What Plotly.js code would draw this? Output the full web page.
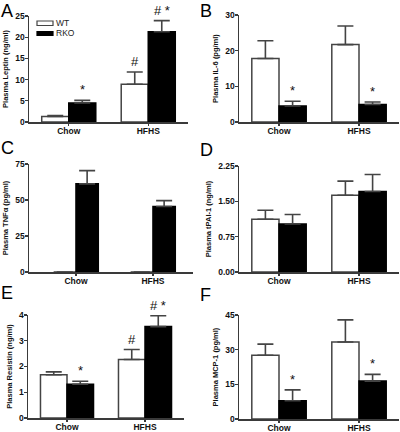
<!DOCTYPE html>
<html>
<head>
<meta charset="utf-8">
<script src="https://cdn.plot.ly/plotly-3.0.1.min.js"></script>
<style>html,body{margin:0;padding:0;background:#fff;}#chart{width:400px;height:432px;}</style>
</head>
<body>
<div id="chart"></div>
<script>
// ---- data ----
const categories = ["Chow", "HFHS"];
const seriesNames = ["WT", "RKO"];

const leptinWt = [1.3, 8.9];
const leptinWtErr = [0.25, 2.9];
const leptinRko = [4.5, 21.3];
const leptinRkoErr = [0.6, 2.6];
const leptinWtMarks = ["", "#"];
const leptinRkoMarks = ["*", "# *"];
const leptinTicks = [0, 5, 10, 15, 20, 25];

const il6Wt = [17.8, 21.7];
const il6WtErr = [5.0, 5.2];
const il6Rko = [4.5, 4.9];
const il6RkoErr = [1.3, 0.7];
const il6WtMarks = ["", ""];
const il6RkoMarks = ["*", "*"];
const il6Ticks = [0, 10, 20, 30];

const tnfWt = [0, 0];
const tnfWtErr = [0, 0];
const tnfRko = [61.2, 45.5];
const tnfRkoErr = [9.2, 4.1];
const tnfWtMarks = ["", ""];
const tnfRkoMarks = ["", ""];
const tnfTicks = [0, 25, 50, 75];

const paiWt = [1.12, 1.63];
const paiWtErr = [0.19, 0.30];
const paiRko = [1.02, 1.71];
const paiRkoErr = [0.20, 0.36];
const paiWtMarks = ["", ""];
const paiRkoMarks = ["", ""];
const paiTicks = [0, 0.75, 1.5, 2.25];
const paiTickText = ["0.00", "0.75", "1.50", "2.25"];

const resistinWt = [1.68, 2.27];
const resistinWtErr = [0.11, 0.39];
const resistinRko = [1.31, 3.55];
const resistinRkoErr = [0.12, 0.42];
const resistinWtMarks = ["", "#"];
const resistinRkoMarks = ["*", "# *"];
const resistinTicks = [0, 1, 2, 3, 4];

const mcpWt = [27.6, 33.3];
const mcpWtErr = [4.8, 9.6];
const mcpRko = [7.9, 16.4];
const mcpRkoErr = [4.7, 2.9];
const mcpWtMarks = ["", ""];
const mcpRkoMarks = ["*", "*"];
const mcpTicks = [0, 15, 30, 45];

const panelLetters = ["A", "B", "C", "D", "E", "F"];
const yTitles = ["Plasma Leptin (ng/ml)", "Plasma IL-6 (pg/ml)", "Plasma TNFα (pg/ml)",
                 "Plasma tPAI-1 (ng/ml)", "Plasma Resistin (ng/ml)", "Plasma MCP-1 (pg/ml)"];

// ---- layout geometry (styles/positions) ----
const W = 400, H = 432;
const px = (a, b) => [a / W, b / W];
const py = (top, bottom) => [1 - bottom / H, 1 - top / H];

const panels = [
  {wt: leptinWt, wtE: leptinWtErr, rko: leptinRko, rkoE: leptinRkoErr, wm: leptinWtMarks, rm: leptinRkoMarks,
   ticks: leptinTicks, tt: null, xd: px(29, 188), yd: py(16, 122), xr: [-0.5, 1.5], bw: 0.34, lx: 0, ly: 0},
  {wt: il6Wt, wtE: il6WtErr, rko: il6Rko, rkoE: il6RkoErr, wm: il6WtMarks, rm: il6RkoMarks,
   ticks: il6Ticks, tt: null, xd: px(239, 399), yd: py(15, 122), xr: [-0.5, 1.5], bw: 0.34, lx: 199, ly: 0},
  {wt: tnfWt, wtE: tnfWtErr, rko: tnfRko, rkoE: tnfRkoErr, wm: tnfWtMarks, rm: tnfRkoMarks,
   ticks: tnfTicks, tt: null, xd: px(29, 193), yd: py(164, 272), xr: [-0.61, 1.52], bw: 0.29, lx: 0, ly: 137},
  {wt: paiWt, wtE: paiWtErr, rko: paiRko, rkoE: paiRkoErr, wm: paiWtMarks, rm: paiRkoMarks,
   ticks: paiTicks, tt: paiTickText, xd: px(239, 399), yd: py(166, 272), xr: [-0.5, 1.5], bw: 0.34, lx: 199, ly: 139},
  {wt: resistinWt, wtE: resistinWtErr, rko: resistinRko, rkoE: resistinRkoErr, wm: resistinWtMarks, rm: resistinRkoMarks,
   ticks: resistinTicks, tt: null, xd: px(28, 184), yd: py(315, 418), xr: [-0.5, 1.5], bw: 0.34, lx: 0, ly: 282},
  {wt: mcpWt, wtE: mcpWtErr, rko: mcpRko, rkoE: mcpRkoErr, wm: mcpWtMarks, rm: mcpRkoMarks,
   ticks: mcpTicks, tt: null, xd: px(239, 399), yd: py(315, 419), xr: [-0.5, 1.5], bw: 0.34, lx: 199, ly: 284}
];

const FONT = "Liberation Sans, Arial, Helvetica, sans-serif";
const AXC = "#3a3a3a";
const traces = [];
const annotations = [];
const shapes = [];
const layout = {
  width: W, height: H,
  margin: {l: 0, r: 0, t: 0, b: 0},
  paper_bgcolor: "#fff", plot_bgcolor: "rgba(0,0,0,0)",
  barmode: "overlay",
  font: {family: FONT, color: "#111"},
  showlegend: false,
  annotations: annotations,
  shapes: shapes
};

panels.forEach((p, i) => {
  const n = i === 0 ? "" : String(i + 1);
  const xa = "x" + n, ya = "y" + n;
  const errStyle = {type: "data", symmetric: false, thickness: 1.6, width: 8, color: "#444"};
  traces.push({
    type: "bar", name: seriesNames[0], x: categories, y: p.wt, xaxis: xa, yaxis: ya,
    offset: -p.bw, width: p.bw,
    marker: {color: "#fff", line: {color: "#444", width: 1.5}},
    error_y: Object.assign({array: p.wtE, arrayminus: p.wtE.map(() => 0), visible: true}, errStyle),
    hoverinfo: "skip"
  });
  traces.push({
    type: "bar", name: seriesNames[1], x: categories, y: p.rko, xaxis: xa, yaxis: ya,
    offset: 0, width: p.bw,
    marker: {color: "#000", line: {color: "#000", width: 1.5}},
    error_y: Object.assign({array: p.rkoE, arrayminus: p.rkoE.map(() => 0), visible: true}, errStyle),
    hoverinfo: "skip"
  });
  layout["xaxis" + n] = {
    domain: p.xd, anchor: ya, type: "category", range: p.xr,
    showline: true, linecolor: AXC, linewidth: 1.5, ticks: "outside", ticklen: 2, tickwidth: 1.2, tickcolor: AXC,
    showgrid: false, zeroline: false, fixedrange: true, ticklabelstandoff: -2,
    tickfont: {family: FONT, size: 8.5, weight: "bold", color: "#111"}
  };
  const ya_ = {
    domain: p.yd, anchor: xa, range: [0, p.ticks[p.ticks.length - 1]],
    tickmode: "array", tickvals: p.ticks,
    showline: true, linecolor: AXC, linewidth: 1.5, ticks: "outside", ticklen: 3, tickwidth: 1.2, tickcolor: AXC,
    showgrid: false, zeroline: false, fixedrange: true, ticklabelstandoff: -2,
    tickfont: {family: FONT, size: 8.5, weight: "bold", color: "#111"},
    title: {text: yTitles[i], standoff: 5, font: {family: FONT, size: 7.5, weight: "bold", color: "#111"}}
  };
  if (p.tt) ya_.ticktext = p.tt;
  layout["yaxis" + n] = ya_;
  // significance marks
  [[p.wt, p.wtE, p.wm, -p.bw / 2], [p.rko, p.rkoE, p.rm, p.bw / 2]].forEach(([v, e, m, dx]) => {
    m.forEach((txt, k) => {
      if (!txt) return;
      annotations.push({
        xref: xa, yref: ya, x: k + dx, y: v[k] + e[k], text: txt, showarrow: false,
        xanchor: "center", yanchor: "bottom", yshift: 1,
        font: {family: FONT, size: 13, color: "#111"}
      });
    });
  });
  // panel letter
  annotations.push({
    xref: "paper", yref: "paper", x: p.lx / W, y: 1 - p.ly / H, xanchor: "left", yanchor: "top",
    text: panelLetters[i], showarrow: false, borderpad: 0, font: {family: FONT, size: 18, color: "#000"}
  });
});

// legend (panel A): swatches + labels
const legendFills = ["#fff", "#000"];
const legendLines = ["#444", "#000"];
const legendRows = [[21, 25.5], [31.5, 35.5]];
seriesNames.forEach((name, k) => {
  shapes.push({
    type: "rect", xref: "paper", yref: "paper",
    x0: 37 / W, x1: 53 / W, y0: 1 - legendRows[k][1] / H, y1: 1 - legendRows[k][0] / H,
    fillcolor: legendFills[k], line: {color: legendLines[k], width: 1.2}
  });
  annotations.push({
    xref: "paper", yref: "paper", x: 54 / W, y: 1 - (legendRows[k][0] + legendRows[k][1]) / 2 / H,
    xanchor: "left", yanchor: "middle", text: name, showarrow: false,
    font: {family: FONT, size: 8.5, color: "#222"}
  });
});

Plotly.newPlot("chart", traces, layout, {displayModeBar: false, staticPlot: true});
</script>
</body>
</html>
